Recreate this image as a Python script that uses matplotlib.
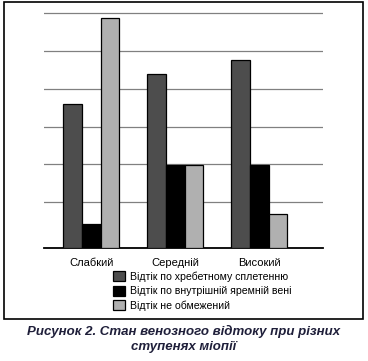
import matplotlib.pyplot as plt
from matplotlib.patches import Rectangle
import numpy as np

plt.rcParams['font.family'] = ['Liberation Sans', 'DejaVu Sans']

categories = ["Слабкий", "Середній", "Високий"]
series_names = [
    "Відтік по хребетному сплетенню",
    "Відтік по внутрішній яремній вені",
    "Відтік не обмежений",
]
spinal = [38.0, 46.0, 49.7]
jugular = [6.3, 22.0, 22.0]
unrestricted = [60.8, 22.0, 8.9]
series = [spinal, jugular, unrestricted]
colors = ["#4d4d4d", "#000000", "#b0b0b0"]
gridlines = [12.1, 22.1, 32.1, 42.1, 52.1, 62.1]

fig = plt.figure(figsize=(3.68, 3.61), dpi=100)
fig.patches.append(Rectangle((4 / 368, 1 - 319 / 361), 359 / 368, 317 / 361,
                             transform=fig.transFigure, fill=False,
                             edgecolor="black", linewidth=1.2))

ax = fig.add_axes([44 / 368, 1 - 248 / 361, 279 / 368, (248 - 12) / 361])
x = np.arange(len(categories))
w = 0.222
for i, (vals, c, name) in enumerate(zip(series, colors, series_names)):
    ax.bar(x + (i - 1) * w, vals, w, color=c, edgecolor="black",
           linewidth=0.9, label=name, zorder=3)

ax.set_xlim(-0.563, 2.758)
ax.set_ylim(0, 62.4)
ax.set_yticks(gridlines)
ax.yaxis.grid(True, color="#808080", linewidth=0.9, zorder=0)
ax.tick_params(left=False, labelleft=False, bottom=False, labelsize=8, pad=4)
ax.set_xticks(x)
ax.set_xticklabels(categories)
for s in ["left", "right", "top"]:
    ax.spines[s].set_visible(False)
ax.spines["bottom"].set_linewidth(1.3)
ax.set_axisbelow(True)

ax.legend(loc="upper left", bbox_to_anchor=(108 / 368, 1 - 266 / 361),
          bbox_transform=fig.transFigure, frameon=False, fontsize=7.6,
          handlelength=1.1, handleheight=1.1, handletextpad=0.5,
          labelspacing=0.35, borderpad=0)

fig.text(0.5, 1 - 331.5 / 361, "Рисунок 2. Стан венозного відтоку при різних",
         ha="center", va="center", fontsize=9.5, fontweight="bold",
         fontstyle="italic", color="#1f1f3a")
fig.text(0.5, 1 - 347 / 361, "ступенях міопії",
         ha="center", va="center", fontsize=9.5, fontweight="bold",
         fontstyle="italic", color="#1f1f3a")

fig.savefig("out.png", dpi=100)
